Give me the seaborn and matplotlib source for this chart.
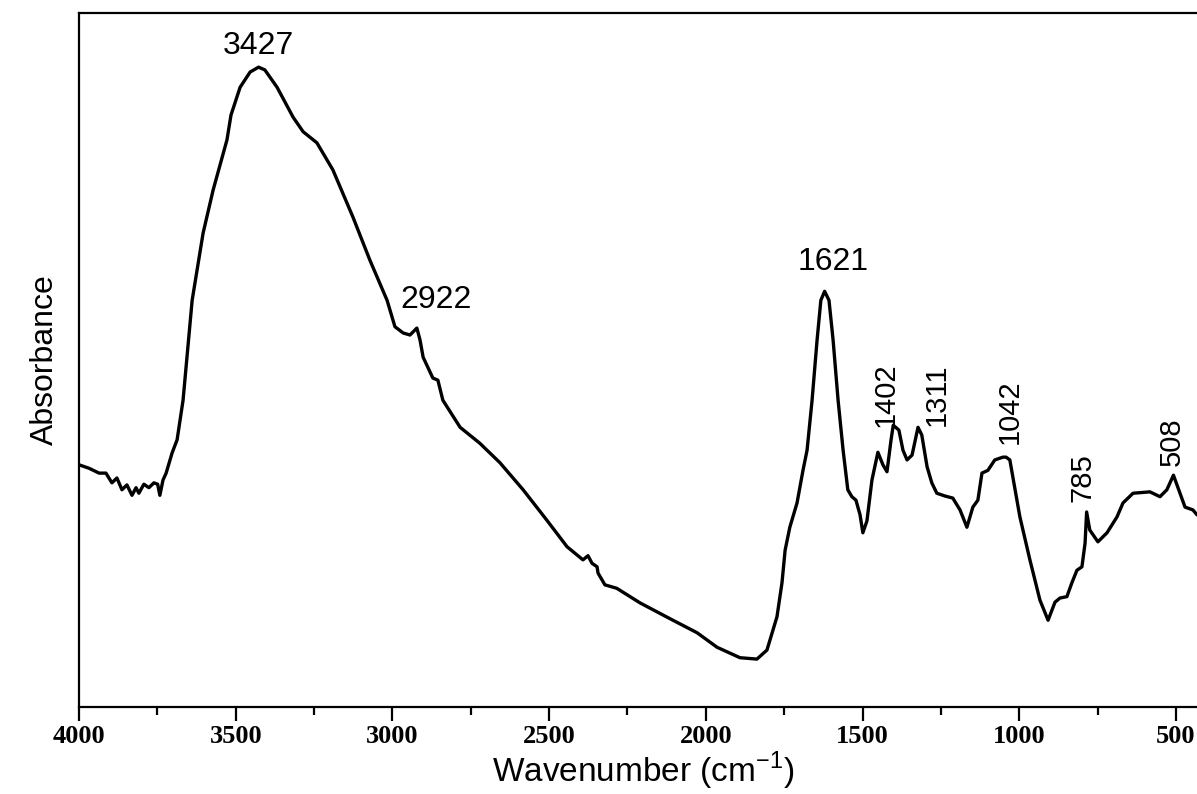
import numpy as np
import pandas as pd
import seaborn as sns
import matplotlib
matplotlib.use("Agg")
import matplotlib.pyplot as plt
from matplotlib.ticker import MultipleLocator

# FTIR spectrum (absorbance in arbitrary units)
wavenumber = [4000, 3968, 3936, 3914, 3895, 3879, 3863, 3847, 3831, 3818,
              3809, 3793, 3777, 3761, 3749, 3742, 3732, 3722, 3703, 3687,
              3668, 3639, 3604, 3572, 3528, 3515, 3486, 3454, 3427, 3407,
              3368, 3317, 3285, 3241, 3190, 3126, 3072, 3017, 2992, 2966,
              2944, 2922, 2912, 2902, 2871, 2855, 2839, 2784, 2721, 2657,
              2583, 2507, 2443, 2392, 2376, 2363, 2347, 2344, 2322, 2284,
              2210, 2105, 2028, 1964, 1891, 1837, 1805, 1773, 1757, 1747,
              1732, 1709, 1690, 1677, 1661, 1645, 1633, 1621, 1607, 1594,
              1578, 1562, 1547, 1534, 1521, 1508, 1499, 1486, 1470, 1451,
              1435, 1422, 1409, 1402, 1384, 1371, 1358, 1342, 1323, 1311,
              1294, 1279, 1263, 1237, 1212, 1189, 1167, 1148, 1132, 1119,
              1100, 1078, 1052, 1042, 1030, 998, 966, 934, 908, 886,
              870, 848, 832, 816, 800, 790, 785, 775, 749, 720,
              688, 669, 637, 583, 551, 529, 508, 487, 471, 446,
              433, 407]
absorbance = [0.349, 0.344, 0.337, 0.337, 0.323, 0.330, 0.313, 0.320, 0.305, 0.316,
              0.308, 0.321, 0.316, 0.323, 0.321, 0.305, 0.327, 0.337, 0.366, 0.385,
              0.442, 0.586, 0.683, 0.745, 0.817, 0.853, 0.893, 0.915, 0.922, 0.918,
              0.893, 0.850, 0.829, 0.813, 0.774, 0.706, 0.644, 0.586, 0.548, 0.539,
              0.536, 0.546, 0.529, 0.504, 0.474, 0.471, 0.442, 0.403, 0.380, 0.352,
              0.313, 0.269, 0.231, 0.212, 0.218, 0.207, 0.202, 0.193, 0.176, 0.171,
              0.150, 0.125, 0.107, 0.086, 0.071, 0.069, 0.082, 0.130, 0.179, 0.226,
              0.259, 0.294, 0.341, 0.370, 0.442, 0.529, 0.586, 0.599, 0.586, 0.529,
              0.442, 0.370, 0.313, 0.303, 0.298, 0.277, 0.251, 0.268, 0.327, 0.367,
              0.349, 0.339, 0.385, 0.406, 0.399, 0.370, 0.356, 0.363, 0.403, 0.392,
              0.346, 0.323, 0.308, 0.304, 0.301, 0.284, 0.259, 0.288, 0.298, 0.337,
              0.341, 0.356, 0.360, 0.360, 0.356, 0.274, 0.212, 0.154, 0.125, 0.151,
              0.157, 0.159, 0.179, 0.197, 0.202, 0.236, 0.281, 0.255, 0.238, 0.251,
              0.274, 0.294, 0.308, 0.310, 0.303, 0.313, 0.334, 0.308, 0.288, 0.284,
              0.277, 0.272]

# peak annotations: text, x, y, rotation
peak_labels = ["3427", "2922", "1621", "1402", "1311", "1042", "785", "508"]
peak_x = [3427, 2861, 1594, 1425, 1263, 1030, 797, 513]
peak_y = [0.952, 0.586, 0.641, 0.450, 0.450, 0.425, 0.330, 0.382]
peak_rot = [0, 0, 0, 90, 90, 90, 90, 90]

df = pd.DataFrame({"wavenumber": wavenumber, "absorbance": absorbance})

sns.set_style("ticks")
plt.rcParams["font.family"] = ["Liberation Sans", "DejaVu Sans"]
plt.rcParams["mathtext.fontset"] = "custom"
plt.rcParams["mathtext.rm"] = "Liberation Sans"
plt.rcParams["text.color"] = "black"
plt.rcParams["axes.labelcolor"] = "black"
plt.rcParams["xtick.color"] = "black"

fig = plt.figure(figsize=(11.97, 7.94), dpi=100)
ax = fig.add_axes([0.066, 0.1096, 0.9426, 0.874])

sns.lineplot(data=df, x="wavenumber", y="absorbance", estimator=None,
             color="black", linewidth=2.4, ax=ax)

ax.set_xlim(4000, 400)
ax.set_ylim(0, 1)
ax.set_yticks([])
ax.xaxis.set_major_locator(MultipleLocator(500))
ax.xaxis.set_minor_locator(MultipleLocator(250))
ax.tick_params(axis="x", which="major", direction="out", length=10, width=1.6,
               pad=3, color="black", labelcolor="black")
ax.tick_params(axis="x", which="minor", direction="out", length=6, width=1.6,
               color="black")
for lab in ax.get_xticklabels():
    lab.set_fontfamily("Liberation Serif")
    lab.set_fontweight("bold")
    lab.set_fontsize(19)

for side in ["left", "bottom", "top", "right"]:
    ax.spines[side].set_linewidth(1.6)
    ax.spines[side].set_color("black")

ax.set_xlabel(r"Wavenumber (cm$^{-1}$)", fontsize=24, labelpad=1, color="black")
ax.set_ylabel("Absorbance", fontsize=23, labelpad=14, color="black")

for t, x, y, r in zip(peak_labels, peak_x, peak_y, peak_rot):
    ax.text(x, y, t, rotation=r, ha="center", va="center", color="black",
            fontsize=23 if r == 0 else 21)

fig.savefig("out.png", dpi=100)
